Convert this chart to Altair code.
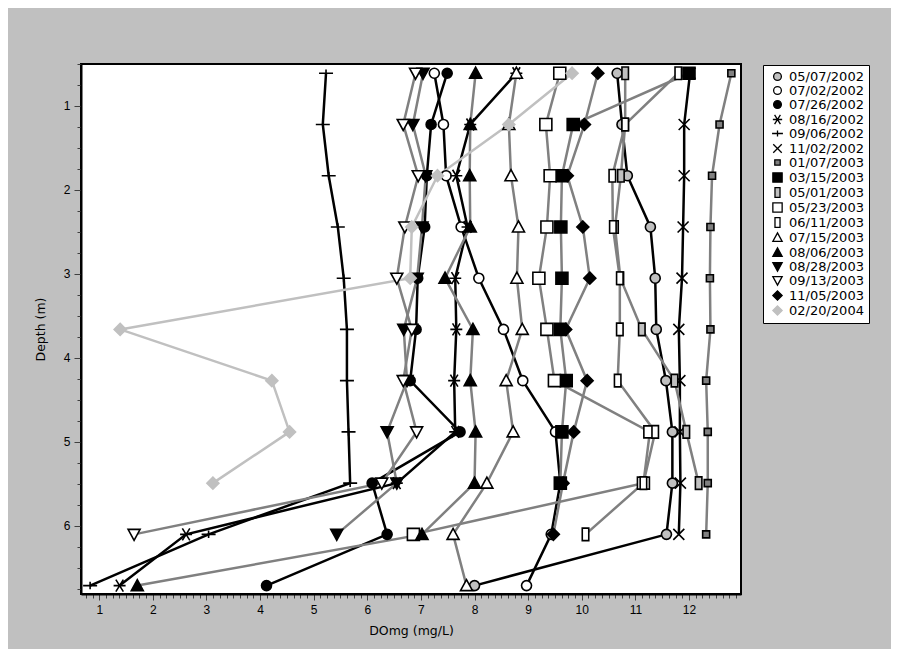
import altair as alt
import pandas as pd

# Depths (m) of the profile samples (2 ft steps)
depths = [0.61, 1.22, 1.83, 2.44, 3.05, 3.66, 4.27, 4.88, 5.49, 6.10, 6.71]

dates = ["05/07/2002", "07/02/2002", "07/26/2002", "08/16/2002", "09/06/2002",
         "11/02/2002", "01/07/2003", "03/15/2003", "05/01/2003", "05/23/2003",
         "06/11/2003", "07/15/2003", "08/06/2003", "08/28/2003", "09/13/2003",
         "11/05/2003", "02/20/2004"]

do_20020507 = [10.66, 10.75, 10.85, 11.28, 11.37, 11.39, 11.57, 11.69, 11.69, 11.58, 8.00]
do_20020702 = [7.25, 7.42, 7.47, 7.75, 8.08, 8.54, 8.90, 9.51, 9.60, 9.43, 8.97]
do_20020726 = [7.49, 7.19, 7.11, 7.07, 6.94, 6.91, 6.80, 7.73, 6.09, 6.37, 4.12]
do_20020816 = [8.78, 7.92, 7.66, 7.87, 7.64, 7.66, 7.62, 7.64, 6.55, 2.62, 1.38]
do_20020906 = [5.23, 5.17, 5.28, 5.45, 5.56, 5.62, 5.62, 5.65, 5.68, 3.04, 0.83]
do_20021102 = [12.02, 11.91, 11.91, 11.89, 11.87, 11.81, 11.83, 11.83, 11.84, 11.81]
do_20030107 = [12.79, 12.57, 12.43, 12.40, 12.39, 12.40, 12.32, 12.35, 12.35, 12.32]
do_20030315 = [12.00, 9.84, 9.63, 9.61, 9.63, 9.60, 9.71, 9.63, 9.60]
do_20030501 = [10.81, 10.81, 10.73, 10.62, 10.72, 11.12, 11.73, 11.95, 12.18]
do_20030523 = [9.59, 9.33, 9.41, 9.35, 9.20, 9.35, 9.49, 11.27, 11.15, 6.86]
do_20030611 = [11.80, 10.81, 10.57, 10.58, 10.71, 10.71, 10.67, 11.37, 11.15, 10.07]
do_20030715 = [8.78, 8.64, 8.68, 8.82, 8.79, 8.89, 8.59, 8.72, 8.23, 7.60, 7.85]
do_20030806 = [8.02, 7.92, 7.91, 7.92, 7.45, 7.97, 7.92, 8.02, 8.00, 7.02, 1.71]
do_20030828 = [7.04, 6.85, 7.09, 7.02, 6.93, 6.68, 6.74, 6.37, 6.55, 5.43]
do_20030913 = [6.90, 6.67, 6.95, 6.70, 6.55, 6.83, 6.67, 6.92, 6.27, 1.65]
do_20031105 = [10.30, 10.05, 9.73, 10.02, 10.15, 9.70, 10.10, 9.85, 9.65, 9.47]
do_20040220 = [9.82, 8.64, 7.31, 6.83, 6.80, 1.39, 4.22, 4.55, 3.12]

series_values = [do_20020507, do_20020702, do_20020726, do_20020816, do_20020906,
                 do_20021102, do_20030107, do_20030315, do_20030501, do_20030523,
                 do_20030611, do_20030715, do_20030806, do_20030828, do_20030913,
                 do_20031105, do_20040220]

x_ticks = [k * 0.125 for k in range(6, 104)]
y_ticks = [k * 0.25 for k in range(2, 28)]

# ---- styles ----
SQ = "M-1.2,-1.2L1.2,-1.2L1.2,1.2L-1.2,1.2Z"
NARROW = "M-0.65,-1.25L0.65,-1.25L0.65,1.25L-0.65,1.25Z"
SMALLSQ = "M-0.7,-0.7L0.7,-0.7L0.7,0.7L-0.7,0.7Z"
TRI_UP = "M0,-1.2L1.2,1.0L-1.2,1.0Z"
TRI_DN = "M0,1.2L1.2,-1.0L-1.2,-1.0Z"
DIAM = "M0,-1.2L1.2,0L0,1.2L-1.2,0Z"
PLUS = "M-1.4,0L1.4,0M0,-0.75L0,0.75"
XSHAPE = "M-1.1,-1.1L1.1,1.1M-1.1,1.1L1.1,-1.1"
ASTER = "M-1.2,0L1.2,0M-0.75,-1.2L0.75,1.2M-0.75,1.2L0.75,-1.2"

shapes = ["circle", "circle", "circle", ASTER, PLUS, XSHAPE, SMALLSQ, SQ, NARROW,
          SQ, NARROW, TRI_UP, TRI_UP, TRI_DN, TRI_DN, DIAM, DIAM]
fills = ["#c0c0c0", "white", "black", "transparent", "transparent", "transparent",
         "#808080", "black", "#c0c0c0", "white", "white", "white", "black",
         "black", "white", "black", "#c0c0c0"]
strokes = ["black"] * 16 + ["#c0c0c0"]

black_line_dates = dates[:6]
gray_line_dates = dates[6:16]
light_line_dates = dates[16:]

rows = []
for name, vals in zip(dates, series_values):
    for d, v in zip(depths, vals):
        rows.append({"date": name, "depth": d, "do": v})
df = pd.DataFrame(rows)

major_test = "abs(datum.value - round(datum.value)) < 0.001"
label_expr = "abs(datum.value - round(datum.value)) < 0.001 ? format(datum.value, 'd') : ''"

x_enc = alt.X(
    "do:Q",
    scale=alt.Scale(domain=[0.66, 12.97], nice=False, zero=False),
    axis=alt.Axis(
        title="DOmg (mg/L)", values=x_ticks,
        labelExpr=label_expr,
        labelOverlap=False, grid=False,
        tickSize={"condition": {"test": major_test, "value": 6}, "value": 4},
        tickColor="#404040", tickWidth=1,
        domainColor="black", domainWidth=2,
        labelFont="Liberation Sans", labelFontSize=12, labelColor="black",
        labelPadding=4,
        titleFont="DejaVu Sans", titleFontSize=12.5, titleFontWeight="normal",
        titleColor="black", titlePadding=9,
    ),
)
y_enc = alt.Y(
    "depth:Q",
    scale=alt.Scale(domain=[0.5, 6.81], nice=False, zero=False, reverse=True),
    axis=alt.Axis(
        title="Depth (m)", values=y_ticks,
        labelExpr=label_expr,
        labelOverlap=False, grid=False,
        tickSize={"condition": {"test": major_test, "value": 7}, "value": 4},
        tickColor="#404040", tickWidth=1,
        domainColor="black", domainWidth=2,
        labelFont="Liberation Sans", labelFontSize=12, labelColor="black",
        labelPadding=4,
        titleFont="DejaVu Sans", titleFontSize=12.5, titleFontWeight="normal",
        titleColor="black", titlePadding=16,
    ),
)

base = alt.Chart(df)


def line_layer(date_list, colour):
    return base.transform_filter(
        alt.FieldOneOfPredicate(field="date", oneOf=date_list)
    ).mark_line(strokeWidth=2.5, color=colour).encode(
        x=x_enc, y=y_enc, detail="date:N", order=alt.Order("depth:Q"),
    )


lines_black = line_layer(black_line_dates, "black")
lines_gray = line_layer(gray_line_dates, "#808080")
lines_light = line_layer(light_line_dates, "#c0c0c0")

legend = alt.Legend(
    title=None, orient="none", legendX=682, legendY=1,
    fillColor="white", strokeColor="black", padding=5,
    labelFont="DejaVu Sans", labelFontSize=13, labelColor="black",
    symbolSize=60, symbolStrokeWidth=1.3, symbolOffset=3, labelOffset=5,
    rowPadding=0, labelLimit=200,
)

points = base.mark_point(size=100, opacity=1, strokeWidth=1.6, filled=True).encode(
    x=x_enc,
    y=y_enc,
    shape=alt.Shape("date:N", scale=alt.Scale(domain=dates, range=shapes), legend=legend),
    fill=alt.Fill("date:N", scale=alt.Scale(domain=dates, range=fills), legend=legend),
    stroke=alt.Stroke("date:N", scale=alt.Scale(domain=dates, range=strokes), legend=legend),
)

chart = alt.layer(lines_black, lines_gray, lines_light, points).properties(
    width=660, height=530,
    autosize=alt.AutoSizeParams(type="none"),
    padding={"left": 73, "top": 56, "right": 150, "bottom": 55},
    background="#c0c0c0",
).configure_view(
    stroke="black", strokeWidth=2, fill="white"
)

chart.save("out.html", embed_options={"renderer": "svg", "actions": False})
